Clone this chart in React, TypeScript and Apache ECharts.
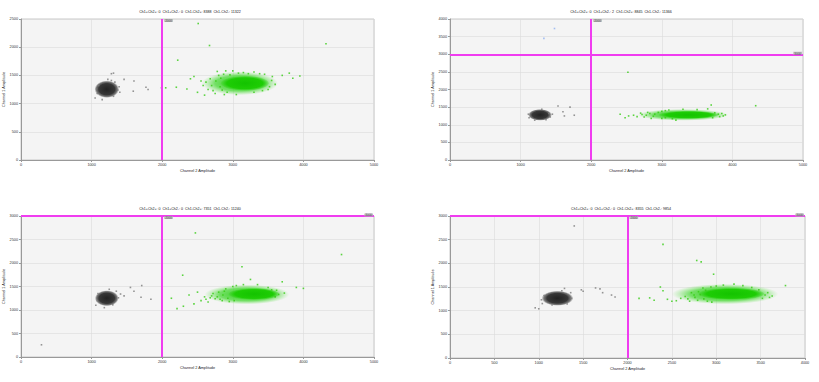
import React, { useEffect, useRef } from "react";
import * as echarts from "echarts";

// ---- data ----
const panelTitles = [
  "Ch1+Ch2+: 0  Ch1+Ch2-: 0  Ch1-Ch2+: 8388  Ch1-Ch2-: 11322",
  "Ch1+Ch2+: 0  Ch1+Ch2-: 2  Ch1-Ch2+: 8845  Ch1-Ch2-: 11366",
  "Ch1+Ch2+: 0  Ch1+Ch2-: 0  Ch1-Ch2+: 7351  Ch1-Ch2-: 11240",
  "Ch1+Ch2+: 0  Ch1+Ch2-: 0  Ch1-Ch2+: 8355  Ch1-Ch2-: 9854",
];
const xMaxes = [5000, 5000, 5000, 4000];
const xIntervals = [1000, 1000, 1000, 500];
const yMaxes = [2500, 4000, 3000, 3000];
const yIntervals = [500, 500, 500, 500];
const ch2Thresholds = [2000, 2000, 2000, 2000];
const ch1Thresholds: (number | null)[] = [null, 3000, 3000, 3000];

// cluster envelopes: [centerCh2, centerCh1, spreadCh2, spreadCh1]
const negCores = [
  [1215, 1255, 175, 155],
  [1275, 1280, 170, 165],
  [1215, 1250, 170, 170],
  [1210, 1262, 180, 160],
];
const posHalos = [
  [3100, 1360, 540, 210],
  [3300, 1280, 640, 165],
  [3200, 1330, 600, 210],
  [3100, 1350, 600, 215],
];
const posCores = [
  [3170, 1360, 340, 130],
  [3380, 1280, 420, 110],
  [3300, 1340, 360, 125],
  [3170, 1355, 370, 125],
];

// individual droplets
const grayDots = [
  [[1050, 1100], [1080, 1180], [1100, 1320], [1330, 1380], [1370, 1240], [1310, 1130], [1150, 1070], [1280, 1410], [1230, 1430], [1310, 1540], [1280, 1530], [1390, 1300], [1400, 1200], [1070, 1260], [1460, 1430], [1600, 1400], [1590, 1220], [1770, 1290], [1800, 1250], [1990, 1280]],
  [[1120, 1200], [1110, 1300], [1400, 1320], [1420, 1220], [1300, 1440], [1200, 1130], [1360, 1140], [1530, 1530], [1700, 1500], [1600, 1370], [1620, 1250], [1760, 1270], [1450, 1300]],
  [[1060, 1100], [1080, 1200], [1090, 1350], [1350, 1400], [1380, 1260], [1300, 1110], [1180, 1050], [1250, 1440], [1410, 1340], [1550, 1480], [1710, 1520], [1600, 1400], [1700, 1270], [1840, 1230], [290, 260], [1460, 1300]],
  [[1040, 1150], [1030, 1230], [1060, 1320], [1360, 1380], [1370, 1260], [1320, 1140], [1150, 1120], [1260, 1420], [1290, 1470], [960, 1060], [1000, 1040], [1480, 1440], [1500, 1410], [1640, 1480], [1690, 1460], [1720, 1380], [1820, 1330], [1860, 1290], [1400, 2790]],
];
const greenDots = [
  [[2050, 1280], [2200, 1290], [2350, 1260], [2400, 1440], [2550, 1400], [2500, 1200], [2600, 1150], [2650, 1250], [2700, 1320], [2750, 1180], [2800, 1500], [2780, 1570], [2850, 1240], [2900, 1580], [3000, 1580], [3150, 1550], [3300, 1560], [3450, 1520], [3500, 1250], [3550, 1410], [3600, 1340], [3700, 1500], [3800, 1540], [3850, 1450], [3950, 1490], [2220, 1770], [2510, 2420], [2670, 2030], [4320, 2060], [2450, 1480], [2880, 1160], [3050, 1160], [3300, 1200], [2620, 1380], [2680, 1440], [2720, 1230], [2760, 1400], [2820, 1300], [2830, 1450], [2870, 1520], [2920, 1200], [2960, 1510], [3080, 1540], [3220, 1530], [3380, 1530], [3420, 1230], [3520, 1300], [3560, 1480], [2580, 1320]],
  [[2410, 1300], [2480, 1200], [2530, 1250], [2600, 1270], [2700, 1330], [2750, 1220], [2800, 1350], [2850, 1180], [2900, 1300], [3000, 1380], [3100, 1420], [3300, 1440], [3500, 1430], [3650, 1450], [3700, 1560], [3800, 1300], [3870, 1250], [3900, 1280], [2520, 2490], [4330, 1540], [3000, 1180], [3200, 1130], [2650, 1230], [2720, 1290], [2780, 1270], [2830, 1320], [2880, 1240], [2950, 1350], [3050, 1400], [3750, 1340], [3820, 1230], [3850, 1320], [3720, 1200], [3150, 1170], [3050, 1200]],
  [[2130, 1250], [2210, 1030], [2290, 1740], [2300, 1080], [2380, 1320], [2450, 1130], [2500, 1380], [2550, 1200], [2600, 1280], [2650, 1170], [2700, 1300], [2750, 1240], [2800, 1380], [2850, 1200], [2900, 1450], [3000, 1500], [3130, 1920], [3250, 1650], [3500, 1480], [3600, 1280], [3700, 1600], [3730, 1360], [3900, 1480], [4000, 1460], [2470, 2640], [4540, 2180], [2950, 1180], [2620, 1230], [2680, 1260], [2720, 1350], [2780, 1280], [2820, 1230], [2860, 1320], [2880, 1400], [2930, 1250], [3050, 1520], [3150, 1540], [3350, 1540], [3550, 1430], [3650, 1330], [3620, 1420], [3020, 1200]],
  [[2130, 1260], [2250, 1270], [2300, 1220], [2370, 1500], [2400, 1420], [2450, 1240], [2500, 1200], [2550, 1210], [2600, 1260], [2650, 1300], [2700, 1200], [2750, 1330], [2800, 1400], [2850, 1480], [2900, 1200], [3000, 1520], [3200, 1560], [3400, 1490], [3550, 1330], [3600, 1280], [3630, 1310], [3780, 1530], [2970, 1770], [2780, 2060], [2830, 2030], [2400, 2400], [2680, 1250], [2720, 1380], [2760, 1280], [2790, 1220], [2820, 1340], [2860, 1250], [2880, 1430], [2940, 1500], [3080, 1540], [3300, 1530], [3480, 1440], [3520, 1260], [3580, 1380], [2950, 1180]],
];
const blueDots = [[], [[1330, 3450], [1480, 3730]], [], []];

// ---- layout (pixels) ----
const grids = [
  { left: 21, top: 19, width: 353, height: 141 },
  { left: 450, top: 19, width: 353, height: 141 },
  { left: 21, top: 216, width: 353, height: 141 },
  { left: 450, top: 216, width: 355, height: 142 },
];
const titleCenters = [190, 621, 190, 621];

const FONT = "Liberation Sans";
const GATE = "#f03cf0";

export default function App() {
  const ref = useRef<HTMLDivElement>(null);
  useEffect(() => {
    if (!ref.current) return;
    const chart = echarts.init(ref.current, undefined, { renderer: "svg" });

    const ellipseSeries = (idx: number, data: number[][], stops: any[], z: number) => ({
      type: "custom",
      xAxisIndex: idx,
      yAxisIndex: idx,
      z,
      silent: true,
      data,
      renderItem: (params: any, api: any) => {
        const c = api.coord([api.value(0), api.value(1)]);
        const s = api.size([api.value(2), api.value(3)]);
        return {
          type: "ellipse",
          shape: { cx: c[0], cy: c[1], rx: s[0], ry: s[1] },
          style: { fill: new echarts.graphic.RadialGradient(0.5, 0.5, 0.5, stops) },
        };
      },
    });

    const series: any[] = [];
    grids.forEach((_, i) => {
      series.push(
        ellipseSeries(i, [negCores[i]], [
          { offset: 0, color: "rgba(35,35,35,1)" },
          { offset: 0.65, color: "rgba(55,55,55,1)" },
          { offset: 0.85, color: "rgba(80,80,80,0.75)" },
          { offset: 1, color: "rgba(120,120,120,0)" },
        ], 2)
      );
      series.push(
        ellipseSeries(i, [posHalos[i]], [
          { offset: 0, color: "rgba(40,205,20,1)" },
          { offset: 0.65, color: "rgba(60,215,40,0.7)" },
          { offset: 1, color: "rgba(100,225,80,0)" },
        ], 2)
      );
      series.push(
        ellipseSeries(i, [posCores[i]], [
          { offset: 0, color: "rgba(20,195,0,1)" },
          { offset: 0.75, color: "rgba(30,205,5,1)" },
          { offset: 1, color: "rgba(45,210,20,0.2)" },
        ], 3)
      );
      series.push({
        type: "scatter",
        xAxisIndex: i,
        yAxisIndex: i,
        z: 4,
        silent: true,
        symbol: "rect",
        symbolSize: 1.6,
        itemStyle: { color: "#7a7a7a" },
        data: grayDots[i],
      });
      series.push({
        type: "scatter",
        xAxisIndex: i,
        yAxisIndex: i,
        z: 4,
        silent: true,
        symbol: "rect",
        symbolSize: 1.6,
        itemStyle: { color: "#33cc11" },
        data: greenDots[i],
      });
      series.push({
        type: "scatter",
        xAxisIndex: i,
        yAxisIndex: i,
        z: 4,
        silent: true,
        symbol: "rect",
        symbolSize: 1.6,
        itemStyle: { color: "#8fb0f0" },
        data: blueDots[i],
      });
      // threshold lines
      const lines: any[] = [{ xAxis: ch2Thresholds[i] }];
      if (ch1Thresholds[i] !== null) lines.push({ yAxis: ch1Thresholds[i] });
      series.push({
        type: "scatter",
        xAxisIndex: i,
        yAxisIndex: i,
        z: 6,
        silent: true,
        data: [],
        markLine: {
          silent: true,
          symbol: "none",
          animation: false,
          label: { show: false },
          lineStyle: { color: GATE, width: 2, type: "solid" },
          data: lines,
        },
      });
      // threshold value tags
      const tags: any[] = [
        {
          value: [ch2Thresholds[i], yMaxes[i]],
          label: { formatter: String(ch2Thresholds[i]), position: [2, 0], align: "left", verticalAlign: "top" },
        },
      ];
      if (ch1Thresholds[i] !== null) {
        tags.push({
          value: [xMaxes[i], ch1Thresholds[i]],
          label: { formatter: String(ch1Thresholds[i]), position: [-1, -1], align: "right", verticalAlign: "middle" },
        });
      }
      series.push({
        type: "scatter",
        xAxisIndex: i,
        yAxisIndex: i,
        z: 7,
        silent: true,
        symbolSize: 0,
        data: tags,
        label: {
          show: true,
          fontSize: 3,
          fontFamily: FONT,
          color: "#333",
          backgroundColor: "#b0b0b0",
          padding: [0, 1],
        },
      });
    });

    const plain = (v: number) => String(v);

    chart.setOption({
      animation: false,
      backgroundColor: "#ffffff",
      title: panelTitles.map((t, i) => ({
        text: t,
        left: titleCenters[i],
        top: grids[i].top - 9,
        textAlign: "center",
        padding: 0,
        textStyle: { fontSize: 3.6, fontWeight: "normal", color: "#111", fontFamily: FONT },
      })),
      grid: grids.map((g) => ({
        ...g,
        show: true,
        backgroundColor: "#f4f4f4",
        borderColor: "#c8c8c8",
        borderWidth: 1,
      })),
      xAxis: grids.map((_, i) => ({
        type: "value",
        gridIndex: i,
        min: 0,
        max: xMaxes[i],
        interval: xIntervals[i],
        name: "Channel 2 Amplitude",
        nameLocation: "middle",
        nameGap: 9,
        nameTextStyle: { fontSize: 3.8, color: "#222", fontFamily: FONT },
        axisLine: { show: true, lineStyle: { color: "#999", width: 1 } },
        axisTick: { show: true, length: 2, lineStyle: { color: "#999" } },
        axisLabel: { fontSize: 3.8, color: "#333", margin: 3, fontFamily: FONT, formatter: plain },
        splitLine: { show: true, lineStyle: { color: "#dadada", width: 0.6 } },
      })),
      yAxis: grids.map((_, i) => ({
        type: "value",
        gridIndex: i,
        min: 0,
        max: yMaxes[i],
        interval: yIntervals[i],
        name: "Channel 1 Amplitude",
        nameLocation: "middle",
        nameGap: 14,
        nameTextStyle: { fontSize: 3.8, color: "#222", fontFamily: FONT },
        axisLine: { show: true, lineStyle: { color: "#999", width: 1 } },
        axisTick: { show: true, length: 2, lineStyle: { color: "#999" } },
        axisLabel: { fontSize: 3.8, color: "#333", margin: 3, fontFamily: FONT, formatter: plain },
        splitLine: { show: true, lineStyle: { color: "#dadada", width: 0.6 } },
      })),
      series,
    });
    return () => chart.dispose();
  }, []);
  return (
    <div
      ref={ref}
      style={{ position: "fixed", left: 0, top: 0, width: 819, height: 382, background: "#fff" }}
    />
  );
}
